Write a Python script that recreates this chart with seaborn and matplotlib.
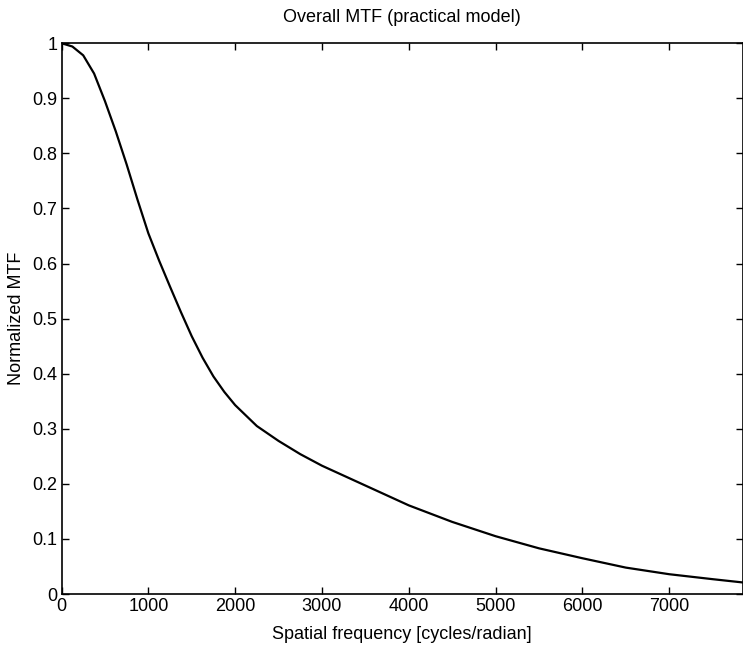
import matplotlib
matplotlib.use("Agg")
import matplotlib.pyplot as plt
import seaborn as sns
import pandas as pd
from matplotlib.ticker import FuncFormatter

# Data
freq = [0, 125, 250, 375, 500, 625, 750, 875, 1000, 1125, 1250, 1375, 1500,
        1625, 1750, 1875, 2000, 2250, 2500, 2750, 3000, 3500, 4000, 4500,
        5000, 5500, 6000, 6500, 7000, 7500, 7850]
mtf = [1.0, 0.994, 0.978, 0.945, 0.895, 0.840, 0.780, 0.716, 0.655, 0.605,
       0.558, 0.512, 0.468, 0.429, 0.395, 0.367, 0.343, 0.305, 0.278, 0.254,
       0.233, 0.197, 0.161, 0.131, 0.105, 0.083, 0.065, 0.048, 0.036, 0.027,
       0.021]
xticks = [0, 1000, 2000, 3000, 4000, 5000, 6000, 7000]
yticks = [0, 0.1, 0.2, 0.3, 0.4, 0.5, 0.6, 0.7, 0.8, 0.9, 1.0]

df = pd.DataFrame({"freq": freq, "mtf": mtf})

sns.set_style("ticks")
plt.rcParams["font.family"] = ["Liberation Sans", "DejaVu Sans"]
plt.rcParams["text.color"] = "black"
plt.rcParams["axes.labelcolor"] = "black"

fig = plt.figure(figsize=(7.43, 6.45), dpi=100)
ax = fig.add_axes([0.0828, 0.079, 0.9172, 0.854])

sns.lineplot(data=df, x="freq", y="mtf", color="black", linewidth=1.6, ax=ax)

ax.set_xlim(0, 7850)
ax.set_ylim(0, 1)
ax.set_xticks(xticks)
ax.set_yticks(yticks)
ax.yaxis.set_major_formatter(FuncFormatter(lambda v, p: "%g" % round(v, 2)))
ax.tick_params(direction="in", length=5, width=1, labelsize=13,
               top=True, right=True, colors="black", pad=3)
for s in ax.spines.values():
    s.set_visible(True)
    s.set_linewidth(1.2)
    s.set_color("black")

ax.set_title("Overall MTF (practical model)", fontsize=13, pad=15, color="black")
ax.set_xlabel("Spatial frequency [cycles/radian]", fontsize=13, labelpad=8)
ax.set_ylabel("Normalized MTF", fontsize=13, labelpad=5)

fig.savefig("out.png", dpi=100)
